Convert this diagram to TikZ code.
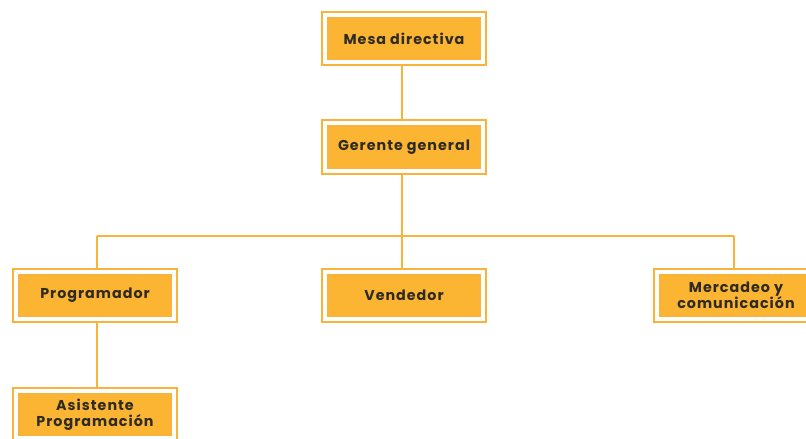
\documentclass[tikz,border=0pt]{standalone}
\usepackage{fontspec}
\setmainfont{Poppins}[UprightFont=*-Bold, BoldFont=*-Bold, LetterSpace=7]
\definecolor{boxfill}{HTML}{FBB533}
\definecolor{boxline}{HTML}{F9B23A}
\definecolor{txt}{HTML}{2E2A25}
\tikzset{
  orgbox/.style={rectangle, fill=boxfill, draw=boxline, double=white,
    line width=1.7pt, double distance=4.3pt, outer sep=3.85pt,
    minimum width=158.5pt, minimum height=47.5pt, inner sep=0pt,
    text=txt, font=\fontsize{14.3}{16.5}\selectfont, align=center},
  conn/.style={draw=boxline, line width=2pt}
}
\begin{document}
\begin{tikzpicture}[x=1pt,y=-1pt]
\useasboundingbox (0,0) rectangle (806,439);
\clip (0,0) rectangle (806,439);
\node[orgbox] (mesa) at (404,38.5) {Mesa directiva};
\node[orgbox] (gerente) at (404,147) {Gerente general};
\node[orgbox] (prog) at (95,295.5) {Programador};
\node[orgbox] (vend) at (404,295.5) {Vendedor};
\node[orgbox] (merc) at (736,295.5) {Mercadeo y\\comunicación};
\node[orgbox] (asis) at (95,414.5) {Asistente\\Programación};
\coordinate (busL) at (97,236);
\coordinate (busM) at (402,236);
\coordinate (busR) at (734,236);
\draw[conn] (mesa.south -| busM) -- (gerente.north -| busM);
\draw[conn] (gerente.south -| busM) -- (vend.north -| busM);
\draw[conn] (busL) -- (busR);
\draw[conn] (busL) -- (prog.north -| busL);
\draw[conn] (busR) -- (merc.north -| busR);
\draw[conn] (prog.south -| busL) -- (asis.north -| busL);
\end{tikzpicture}
\end{document}
